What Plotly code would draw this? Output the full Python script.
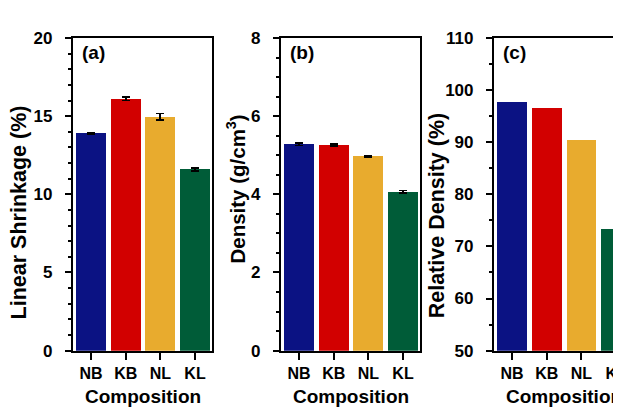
import plotly.graph_objects as go

categories = ["NB", "KB", "NL", "KL"]
colors = ["#0b1283", "#d20000", "#e8ab2e", "#005c38"]

shrinkage = [13.9, 16.1, 14.95, 11.6]
shrinkage_err = [0.06, 0.1, 0.22, 0.1]

density = [5.28, 5.26, 4.97, 4.07]
density_err = [0.03, 0.02, 0.02, 0.03]

rel_density = [97.75, 96.65, 90.5, 73.3]

W, H = 621, 407
FONT = "Liberation Sans, Arial, sans-serif"

fig = go.Figure()

def px_x(p):
    return p / W

def px_y(p):
    return 1 - p / H

top, bottom = 22, 350
panels = [
    dict(x0=65, x1=204, xr=[-0.52, 3.49], yr=[0, 20], dt=5, mdt=1, vals=shrinkage, err=shrinkage_err,
         title="Linear Shrinkage (%)", tsize=21.5, tx=11, ty=205, label="(a)", mirror=True),
    dict(x0=273, x1=412, xr=[-0.52, 3.49], yr=[0, 8], dt=2, mdt=0.5, vals=density, err=density_err,
         title="Density (g/cm<sup>3</sup>)", tsize=20.5, tx=228, ty=181, label="(b)", mirror=True),
    dict(x0=486, x1=621, xr=[-0.52, 3.37], yr=[50, 110], dt=10, mdt=5, vals=rel_density, err=None,
         title="Relative Density (%)", tsize=21.5, tx=429, ty=208, label="(c)", mirror=False),
]

for i, p in enumerate(panels):
    n = "" if i == 0 else str(i + 1)
    tr = dict(
        x=categories, y=p["vals"], marker=dict(color=colors, line=dict(width=0)),
        width=0.86, xaxis="x" + n, yaxis="y" + n, showlegend=False,
    )
    if p["err"] is not None:
        tr["error_y"] = dict(type="data", array=p["err"], visible=True,
                             color="black", thickness=1.8, width=4)
    fig.add_trace(go.Bar(**tr))

    xa = dict(
        domain=[px_x(p["x0"]), px_x(p["x1"])], range=p["xr"], anchor="y" + n,
        showline=True, linecolor="black", linewidth=2.2, mirror=True,
        ticks="outside", ticklen=7, tickwidth=2, tickcolor="black",
        tickfont=dict(family=FONT, size=16, color="black", weight="bold"),
        ticklabelstandoff=0, showgrid=False, zeroline=False, fixedrange=True,
    )
    ya = dict(
        domain=[px_y(bottom), px_y(top)], range=p["yr"], anchor="x" + n,
        showline=True, linecolor="black", linewidth=2.2, mirror=p["mirror"],
        ticks="outside", ticklen=6, tickwidth=2, tickcolor="black", dtick=p["dt"],
        tick0=p["yr"][0],
        minor=dict(ticks="outside", ticklen=3, tickwidth=2, tickcolor="black", dtick=p["mdt"],
                   tick0=p["yr"][0], showgrid=False),
        tickfont=dict(family=FONT, size=17, color="black", weight="bold"),
        ticklabelstandoff=9, showgrid=False, zeroline=False, fixedrange=True,
    )
    fig.layout["xaxis" + n] = xa
    fig.layout["yaxis" + n] = ya

    fig.add_annotation(text=p["title"], x=px_x(p["tx"]), y=px_y(p["ty"]), xref="paper", yref="paper",
                       textangle=-90, showarrow=False, xanchor="center", yanchor="middle",
                       font=dict(family=FONT, size=p["tsize"], color="black", weight="bold"))
    fig.add_annotation(text="Composition", x=px_x((p["x0"] + p["x0"] + 139) / 2), y=px_y(398),
                       xref="paper", yref="paper", showarrow=False, xanchor="center", yanchor="middle",
                       font=dict(family=FONT, size=19, color="black", weight="bold"))
    fig.add_annotation(text=p["label"], x=px_x(p["x0"] + 7), y=px_y(37), xref="paper", yref="paper",
                       showarrow=False, xanchor="left", yanchor="middle",
                       font=dict(family=FONT, size=19, color="black", weight="bold"))

fig.update_layout(
    width=W, height=H, margin=dict(l=0, r=0, t=0, b=0),
    paper_bgcolor="white", plot_bgcolor="white", bargap=0,
)

fig.write_html("out.html")
